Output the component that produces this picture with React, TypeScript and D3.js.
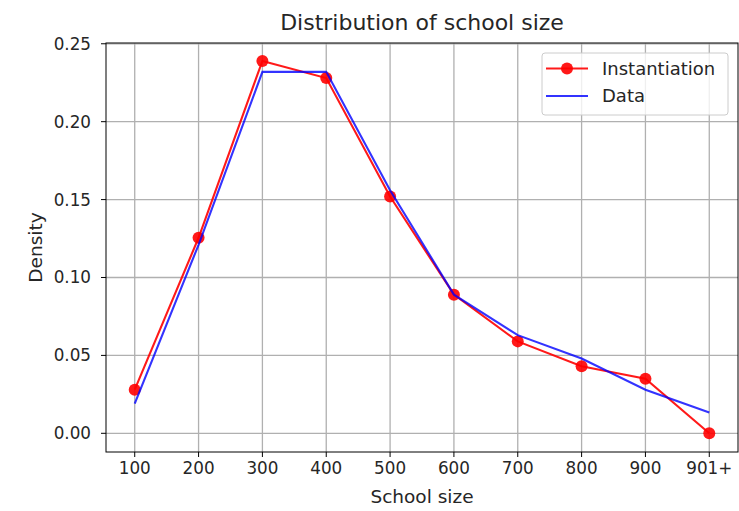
import React from "react";
import * as d3 from "d3";

const categories = ["100", "200", "300", "400", "500", "600", "700", "800", "900", "901+"];
const instantiation = [0.028, 0.1255, 0.239, 0.228, 0.152, 0.089, 0.059, 0.043, 0.035, 0.0];
const data = [0.019, 0.121, 0.232, 0.232, 0.156, 0.089, 0.063, 0.048, 0.028, 0.0133];
const yTicks = [0.0, 0.05, 0.1, 0.15, 0.2, 0.25];

const W = 739, H = 511;
const L = 106, R = 738, T = 43, B = 452;
const FONT = "DejaVu Sans, sans-serif";
const TICK_FS = 16.8;
const LABEL_FS = 18.5;

export default function App() {
  const x = d3.scaleLinear().domain([-0.45, 9.45]).range([L, R]);
  const y = d3.scaleLinear().domain([-0.012, 0.2505]).range([B, T]);
  const line = d3.line<number>().x((_, i) => x(i)).y((d) => y(d));
  return (
    <svg width={W} height={H} style={{ position: "absolute", left: 0, top: 0, background: "#fff" }}>
      <g>
        {categories.map((_, i) => (
          <line key={"gx" + i} x1={x(i)} x2={x(i)} y1={T} y2={B} stroke="#b0b0b0" strokeWidth={1.3} />
        ))}
        {yTicks.map((t) => (
          <line key={"gy" + t} x1={L} x2={R} y1={y(t)} y2={y(t)} stroke="#b0b0b0" strokeWidth={1.3} />
        ))}
      </g>
      <path d={line(instantiation) || ""} fill="none" stroke="#ff0000" strokeOpacity={0.9} strokeWidth={2.1} />
      {instantiation.map((v, i) => (
        <circle key={"m" + i} cx={x(i)} cy={y(v)} r={6} fill="#ff0000" fillOpacity={0.9} />
      ))}
      <path d={line(data) || ""} fill="none" stroke="#0000ff" strokeOpacity={0.8} strokeWidth={2.1} />
      <rect x={L} y={T} width={R - L} height={B - T} fill="none" stroke="#000" strokeWidth={1} />
      {categories.map((c, i) => (
        <g key={"tx" + i}>
          <line x1={x(i)} x2={x(i)} y1={B} y2={B + 5} stroke="#000" />
          <text x={x(i)} y={B + 22} textAnchor="middle" fontFamily={FONT} fontSize={TICK_FS} fill="#262626">{c}</text>
        </g>
      ))}
      {yTicks.map((t) => (
        <g key={"ty" + t}>
          <line x1={L - 5} x2={L} y1={y(t)} y2={y(t)} stroke="#000" />
          <text x={L - 15} y={y(t) + 6} textAnchor="end" fontFamily={FONT} fontSize={TICK_FS} fill="#262626">{t.toFixed(2)}</text>
        </g>
      ))}
      <text x={(L + R) / 2} y={503} textAnchor="middle" fontFamily={FONT} fontSize={LABEL_FS} fill="#262626">School size</text>
      <text transform={`translate(42,${(T + B) / 2}) rotate(-90)`} textAnchor="middle" fontFamily={FONT} fontSize={LABEL_FS} fill="#262626">Density</text>
      <text x={(L + R) / 2} y={30} textAnchor="middle" fontFamily={FONT} fontSize={22} fill="#262626">Distribution of school size</text>
      <g>
        <rect x={542} y={53} width={186} height={62} rx={3} fill="#fff" fillOpacity={0.8} stroke="#ccc" />
        <line x1={546} x2={588} y1={68.5} y2={68.5} stroke="#ff0000" strokeOpacity={0.9} strokeWidth={2.1} />
        <circle cx={567} cy={68.5} r={6} fill="#ff0000" fillOpacity={0.9} />
        <text x={602} y={74.5} fontFamily={FONT} fontSize={18} fill="#262626">Instantiation</text>
        <line x1={546} x2={588} y1={96} y2={96} stroke="#0000ff" strokeOpacity={0.8} strokeWidth={2.1} />
        <text x={602} y={102} fontFamily={FONT} fontSize={18} fill="#262626">Data</text>
      </g>
    </svg>
  );
}
